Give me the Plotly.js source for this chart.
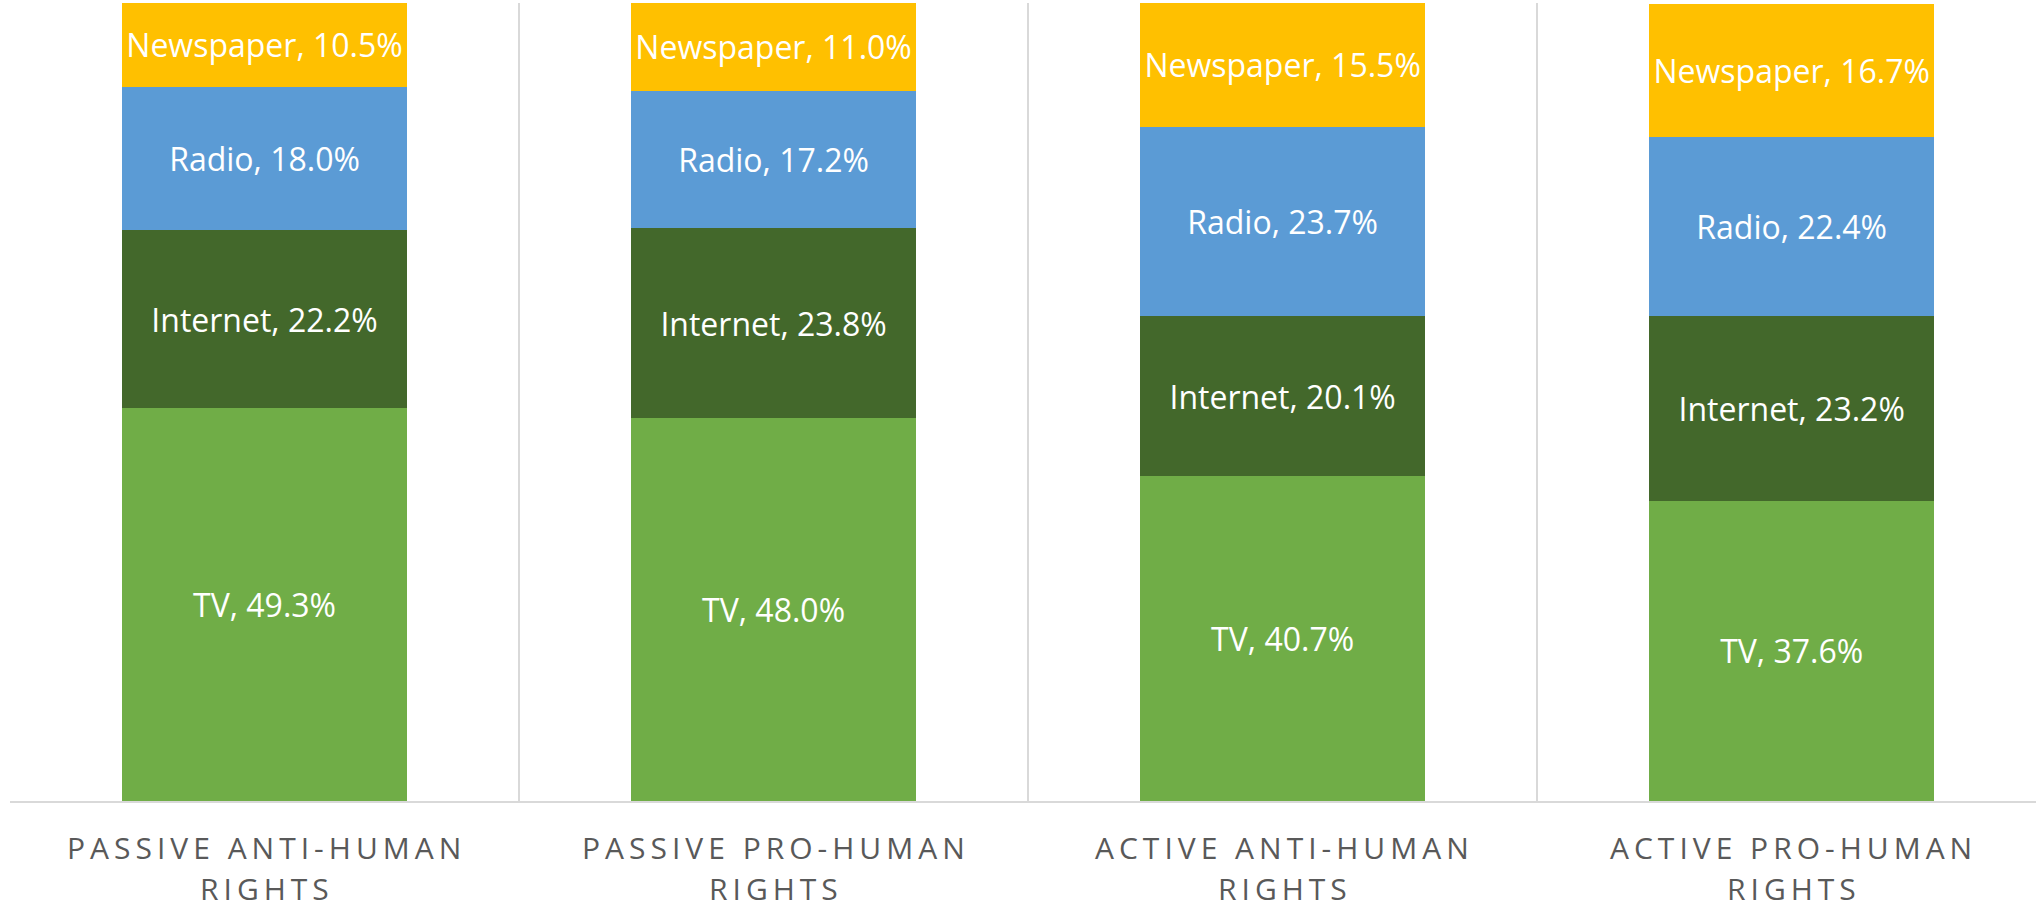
<!DOCTYPE html>
<html>
<head>
<meta charset="utf-8">
<script src="https://cdn.plot.ly/plotly-3.0.1.min.js"></script>
<style>
  html, body { margin: 0; padding: 0; background: #fff; }
  #chart { width: 2036px; height: 910px; }
  .annotation-text { letter-spacing: 5px; }
</style>
</head>
<body>
<div id="chart"></div>
<script>
// Categories (two lines of each axis label)
const categories = ["Passive anti-human rights", "Passive pro-human rights", "Active anti-human rights", "Active pro-human rights"];
const labelLine1 = ["PASSIVE ANTI-HUMAN", "PASSIVE PRO-HUMAN", "ACTIVE ANTI-HUMAN", "ACTIVE PRO-HUMAN"];
const labelLine2 = ["RIGHTS", "RIGHTS", "RIGHTS", "RIGHTS"];

// Series values (%)
const tv        = [49.3, 48.0, 40.7, 37.6];
const internet  = [22.2, 23.8, 20.1, 23.2];
const radio     = [18.0, 17.2, 23.7, 22.4];
const newspaper = [10.5, 11.0, 15.5, 16.7];

const seriesNames  = ["TV", "Internet", "Radio", "Newspaper"];
const seriesValues = [tv, internet, radio, newspaper];
const seriesColors = ["#70AD47", "#43682B", "#5B9BD5", "#FFC000"];

const traces = seriesNames.map((name, i) => ({
  type: "bar",
  name: name,
  x: categories,
  y: seriesValues[i],
  marker: { color: seriesColors[i], line: { width: 0 } },
  texttemplate: name + ", %{y:.1f}%",
  textposition: "inside",
  insidetextanchor: "middle",
  textangle: 0,
  constraintext: "none",
  textfont: { family: "Open Sans", size: 32, color: "#FFFFFF" },
  hoverinfo: "skip"
}));

const annotations = [];
categories.forEach((c, i) => {
  annotations.push({
    x: c, xref: "x", y: 0, yref: "paper",
    text: labelLine1[i], showarrow: false, borderpad: 0,
    xanchor: "center", yanchor: "middle", yshift: -46, xshift: 2,
    font: { family: "Open Sans", size: 30, color: "#595959" }
  });
  annotations.push({
    x: c, xref: "x", y: 0, yref: "paper",
    text: labelLine2[i], showarrow: false, borderpad: 0,
    xanchor: "center", yanchor: "middle", yshift: -87, xshift: 2,
    font: { family: "Open Sans", size: 30, color: "#595959" }
  });
});

const layout = {
  width: 2036,
  height: 910,
  margin: { l: 10, r: 0, t: 3, b: 109, pad: 0 },
  barmode: "stack",
  bargap: 0.44,
  showlegend: false,
  paper_bgcolor: "#FFFFFF",
  plot_bgcolor: "#FFFFFF",
  xaxis: {
    type: "category",
    range: [-0.5, 3.48],
    showticklabels: false,
    ticks: "",
    showgrid: true,
    tickson: "boundaries",
    gridcolor: "#D9D9D9",
    gridwidth: 2,
    showline: true,
    linecolor: "#D9D9D9",
    linewidth: 2,
    zeroline: false,
    fixedrange: true
  },
  yaxis: {
    range: [0, 100],
    showgrid: false,
    showticklabels: false,
    ticks: "",
    zeroline: false,
    showline: false,
    fixedrange: true
  },
  annotations: annotations
};

Plotly.newPlot("chart", traces, layout, { displayModeBar: false, staticPlot: true });
</script>
</body>
</html>
